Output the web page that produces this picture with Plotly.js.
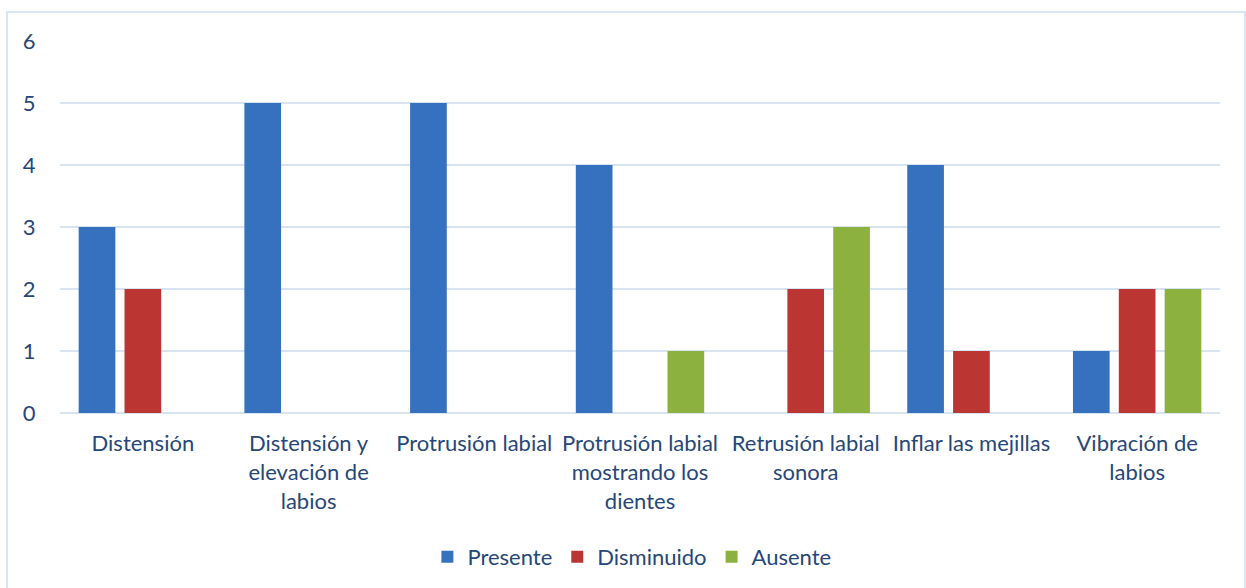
<!DOCTYPE html>
<html>
<head>
<meta charset="utf-8">
<script src="https://cdn.plot.ly/plotly-3.0.1.min.js"></script>
<style>
html,body{margin:0;padding:0;background:#fff;}
#wrap{position:relative;width:1246px;height:588px;overflow:hidden;}
#chart{position:absolute;left:0;top:0;width:1246px;height:588px;}
#frame{position:absolute;left:6px;top:11px;width:1236px;height:600px;border:2px solid #d9e5f4;pointer-events:none;}
</style>
</head>
<body>
<div id="wrap"><div id="chart"></div><div id="frame"></div></div>
<script>
const categories = [
  "Distensión",
  "Distensión y<br>elevación de<br>labios",
  "Protrusión labial",
  "Protrusión labial<br>mostrando los<br>dientes",
  "Retrusión labial<br>sonora",
  "Inflar las mejillas",
  "Vibración de<br>labios"
];
const presente   = [3, 5, 5, 4, 0, 4, 1];
const disminuido = [2, 0, 0, 0, 2, 1, 2];
const ausente    = [0, 0, 0, 1, 3, 0, 2];
const seriesNames = ["Presente", "Disminuido", "Ausente"];
const yTicks = [0, 1, 2, 3, 4, 5, 6];

const textColor = "#264778";
const fontFamily = "Lato, 'Open Sans', sans-serif";

const traces = [
  {name: seriesNames[0], values: presente,   color: "#3571bf"},
  {name: seriesNames[1], values: disminuido, color: "#bb3533"},
  {name: seriesNames[2], values: ausente,    color: "#8cb13f"}
].map(s => ({
  type: "bar",
  x: categories,
  y: s.values,
  name: s.name,
  marker: {color: s.color, line: {width: 0}},
  hoverinfo: "x+y+name"
}));

const layout = {
  width: 1246,
  height: 588,
  margin: {l: 60, r: 26, t: 41, b: 174},
  paper_bgcolor: "rgba(0,0,0,0)",
  plot_bgcolor: "rgba(0,0,0,0)",
  barmode: "group",
  bargap: 0.17,
  bargroupgap: 0.2,
  font: {family: fontFamily, size: 22, color: textColor},
  showlegend: true,
  legend: {
    orientation: "h",
    x: 0.493, xanchor: "center",
    y: -0.383, yanchor: "middle",
    font: {family: fontFamily, size: 22, color: textColor},
    itemwidth: 30,
    traceorder: "normal"
  },
  xaxis: {
    type: "category",
    showgrid: false,
    zeroline: false,
    showline: false,
    ticks: "outside",
    ticklen: 11,
    tickcolor: "rgba(0,0,0,0)",
    tickfont: {family: fontFamily, size: 22, color: textColor},
    automargin: false
  },
  yaxis: {
    range: [0, 6],
    tickvals: yTicks,
    ticktext: yTicks.map(String),
    showgrid: true,
    gridcolor: "#d9e4f2",
    gridwidth: 2,
    zeroline: true,
    zerolinecolor: "#d9e4f2",
    zerolinewidth: 2,
    showline: false,
    ticks: "outside",
    ticklen: 19,
    tickcolor: "rgba(0,0,0,0)",
    tickfont: {family: fontFamily, size: 22, color: textColor},
    automargin: false
  }
};

Plotly.newPlot("chart", traces, layout, {displayModeBar: false, staticPlot: true});
</script>
</body>
</html>
